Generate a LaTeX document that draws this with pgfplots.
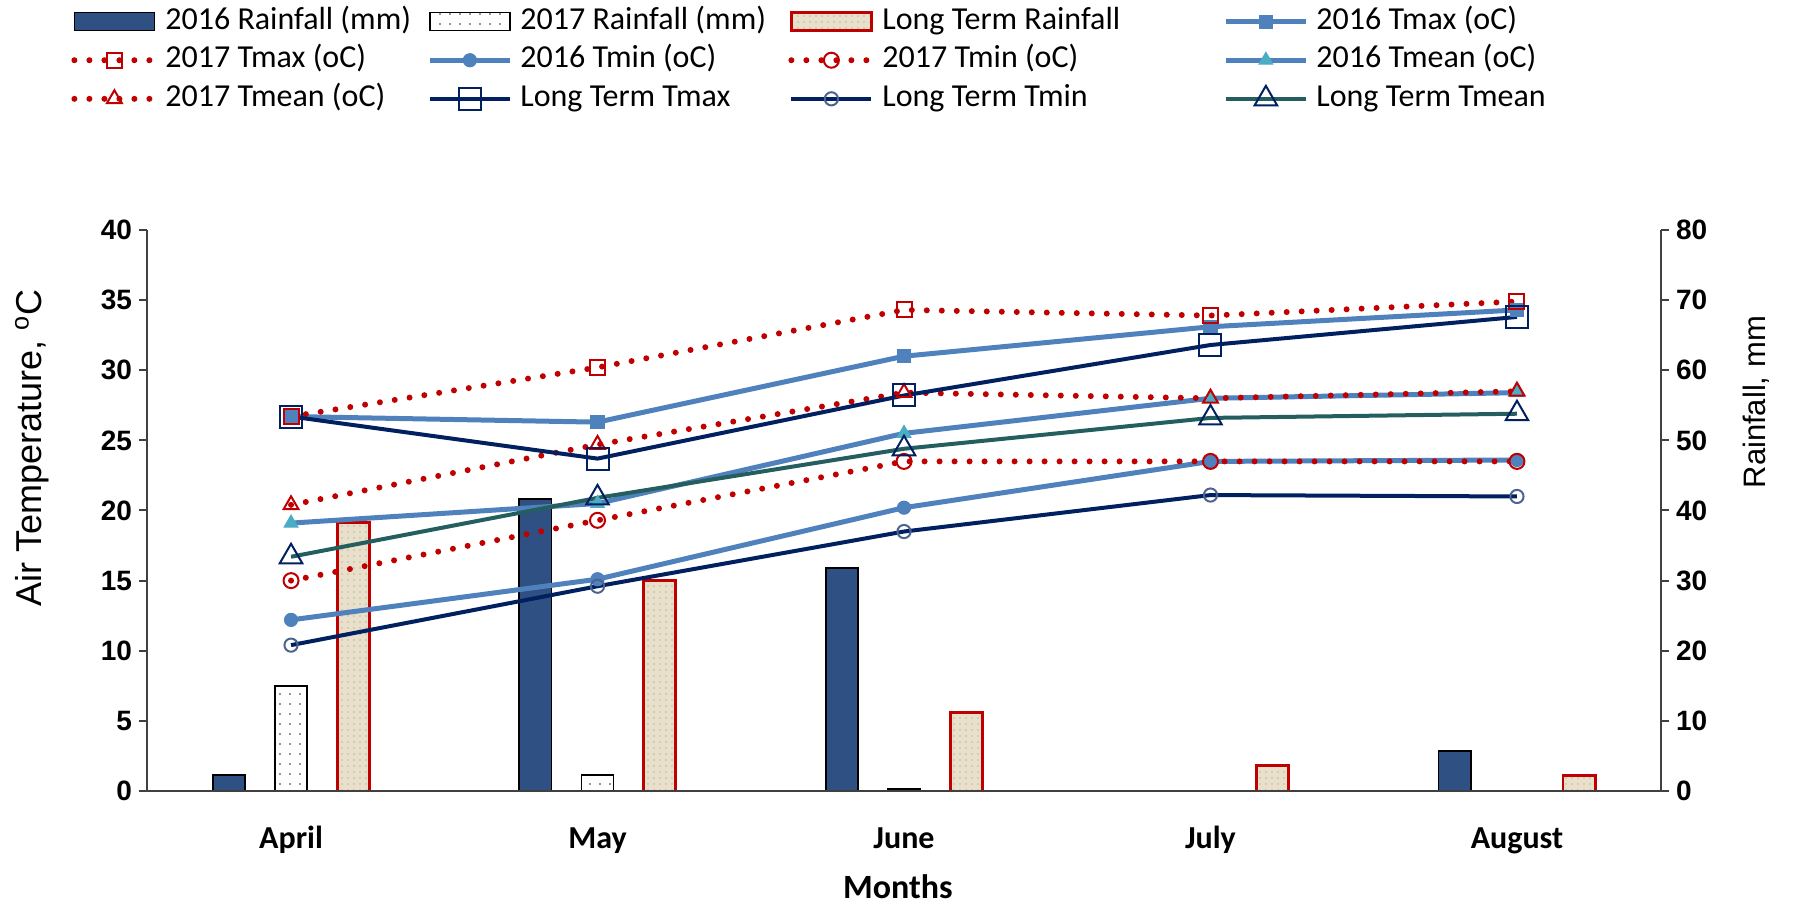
\documentclass[border=0pt]{standalone}
\usepackage{fontspec}
\setmainfont{Carlito}
\newfontfamily\arialfont{Liberation Sans}
\usepackage{pgfplots}
\pgfplotsset{compat=1.18}
\usetikzlibrary{patterns.meta}

\definecolor{rainA}{RGB}{46,80,130}
\definecolor{ltfill}{RGB}{233,224,203}
\definecolor{ltgrain}{RGB}{196,182,156}
\definecolor{ltedge}{RGB}{192,0,0}
\definecolor{blueA}{RGB}{79,129,189}
\definecolor{cyanA}{RGB}{75,172,198}
\definecolor{redB}{RGB}{192,0,0}
\definecolor{navyC}{RGB}{0,32,96}
\definecolor{tealC}{RGB}{36,94,94}
\definecolor{axgray}{RGB}{64,64,64}

\pgfplotsset{
  barleg/.style={legend image code/.code={\draw[##1] (0pt,-4.5pt) rectangle (40pt,4.5pt);}},
  lineleg/.style={legend image code/.code={\draw[mark repeat=2,mark phase=2,##1] plot coordinates {(0pt,0pt) (20pt,0pt) (40pt,0pt)};}},
  dotred/.style={redB, line width=3pt, line cap=round, dash pattern=on 0pt off 7.5pt},
  tmaxA/.style={blueA, line width=2.5pt, mark=square*, mark size=3.3pt, mark options={fill=blueA, draw=blueA, line width=0.5pt}},
  tmaxB/.style={dotred, mark=square, mark size=3.75pt, mark options={solid, draw=redB, fill=none, line width=1pt}},
  tminA/.style={blueA, line width=2.5pt, mark=*, mark size=3.3pt, mark options={fill=blueA, draw=blueA, line width=0.5pt}},
  tminB/.style={dotred, mark=o, mark size=3.75pt, mark options={solid, draw=redB, line width=1pt}},
  tmeanA/.style={blueA, line width=2.5pt, mark=triangle*, mark size=4pt, mark options={fill=cyanA, draw=cyanA, line width=0.5pt}},
  tmeanB/.style={dotred, mark=triangle, mark size=4.3pt, mark options={solid, draw=redB, line width=1pt}},
  tmaxC/.style={navyC, line width=2pt, mark=square, mark size=5.5pt, mark options={draw=navyC, fill=none, line width=1pt}},
  tminC/.style={navyC, line width=2pt, mark=o, mark size=3.3pt, mark options={draw=navyC!70, line width=1pt}},
  tmeanC/.style={tealC, line width=2pt, mark=triangle, mark size=6.5pt, mark options={draw=navyC, line width=1pt}},
  frame/.style={
    at={(73.5pt,56.5pt)}, anchor=south west,
    scale only axis, width=757pt, height=280.5pt,
    xmin=-0.47, xmax=4.47,
    axis line style={draw=axgray, line width=1pt},
    every tick/.style={draw=axgray, line width=1pt},
    tick align=outside, major tick length=4pt,
    /pgf/number format/assume math mode=true,
    yticklabel style={font=\arialfont\bfseries\fontsize{14}{16}\selectfont},
  },
}
\newcommand{\cA}[1]{\makebox[131pt][l]{#1}}
\newcommand{\cB}[1]{\makebox[134pt][l]{#1}}
\newcommand{\cC}[1]{\makebox[170.5pt][l]{#1}}

\begin{document}
\begin{tikzpicture}
\path[use as bounding box] (0,0) rectangle (900pt,452pt);

% rainfall, right axis (drawn first, lines go on top)
\begin{axis}[
  frame,
  ymin=0, ymax=80, ytick={0,10,...,80},
  axis x line=none, axis y line*=right,
  ylabel={Rainfall, mm},
  ylabel style={font=\arialfont\fontsize{15.5}{18}\selectfont, at={(axis description cs:1.063,0.693)}, anchor=center},
  lineleg,
  legend columns=4,
  legend cell align=left,
  legend style={at={(axis description cs:-0.0502,1.398)}, anchor=north west,
    draw=none, fill=none, inner sep=0pt,
    font=\fontsize{16}{18}\selectfont,
    row sep=4.8pt, column sep=0pt,
    /tikz/every odd column/.append style={column sep=4pt},
    nodes={inner sep=0pt, text height=11pt, text depth=3.5pt}},
]
\addplot[ybar, bar width=0.105, bar shift=-0.203, fill=rainA, draw=black, line width=0.8pt, barleg]
  coordinates {(0,2.3) (1,41.6) (2,31.8) (3,0) (4,5.7)};
\addlegendentry{\cA{2016 Rainfall (mm)}}
\addplot[ybar, bar width=0.105, bar shift=0, draw=black, line width=0.8pt,
  pattern={Dots[distance=5pt, radius=0.6pt]}, pattern color=black!55, barleg]
  coordinates {(0,15.0) (1,2.3) (2,0.3) (3,0) (4,0)};
\addlegendentry{\cB{2017 Rainfall (mm)}}
\addplot[ybar, bar width=0.105, bar shift=0.203, fill=ltfill, draw=ltedge, line width=1.4pt,
  postaction={pattern={Dots[distance=3pt, radius=0.45pt]}, pattern color=ltgrain}, barleg]
  coordinates {(0,38.3) (1,30.0) (2,11.2) (3,3.6) (4,2.2)};
\addlegendentry{\cC{Long Term Rainfall}}
\addlegendimage{tmaxA}
\addlegendentry{2016 Tmax (oC)}
\addlegendimage{tmaxB}
\addlegendentry{\cA{2017 Tmax (oC)}}
\addlegendimage{tminA}
\addlegendentry{\cB{2016 Tmin (oC)}}
\addlegendimage{tminB}
\addlegendentry{\cC{2017 Tmin (oC)}}
\addlegendimage{tmeanA}
\addlegendentry{2016 Tmean (oC)}
\addlegendimage{tmeanB}
\addlegendentry{\cA{2017 Tmean (oC)}}
\addlegendimage{tmaxC}
\addlegendentry{\cB{Long Term Tmax}}
\addlegendimage{tminC}
\addlegendentry{\cC{Long Term Tmin}}
\addlegendimage{tmeanC}
\addlegendentry{Long Term Tmean}
\end{axis}

% temperature, left axis
\begin{axis}[
  frame,
  ymin=0, ymax=40, ytick={0,5,...,40},
  axis x line*=bottom, axis y line*=left,
  xtick={0,1,2,3,4}, xticklabels={April,May,June,July,August},
  x tick style={draw=none},
  xticklabel style={font=\bfseries\fontsize{16}{19}\selectfont, anchor=base, yshift=-25pt},
  xlabel={Months},
  xlabel style={font=\bfseries\fontsize{17}{20}\selectfont, at={(axis description cs:0.496,-0.171)}, anchor=center},
  ylabel={Air Temperature, \textsuperscript{o}C},
  ylabel style={font=\arialfont\fontsize{18}{21}\selectfont, at={(axis description cs:-0.076,0.611)}, anchor=center},
  clip=false,
]
\addplot[tmaxA]  coordinates {(0,26.7) (1,26.3) (2,31.0) (3,33.1) (4,34.3)};
\addplot[tmaxB]  coordinates {(0,26.7) (1,30.2) (2,34.3) (3,33.9) (4,34.9)};
\addplot[tminA]  coordinates {(0,12.2) (1,15.1) (2,20.2) (3,23.5) (4,23.6)};
\addplot[tminB]  coordinates {(0,15.0) (1,19.3) (2,23.5) (3,23.5) (4,23.5)};
\addplot[tmeanA] coordinates {(0,19.1) (1,20.5) (2,25.5) (3,28.0) (4,28.4)};
\addplot[tmeanB] coordinates {(0,20.4) (1,24.7) (2,28.4) (3,28.0) (4,28.5)};
\addplot[tmaxC]  coordinates {(0,26.7) (1,23.7) (2,28.2) (3,31.8) (4,33.8)};
\addplot[tminC]  coordinates {(0,10.4) (1,14.6) (2,18.5) (3,21.1) (4,21.0)};
\addplot[tmeanC] coordinates {(0,16.7) (1,20.9) (2,24.4) (3,26.6) (4,26.9)};
\end{axis}
\end{tikzpicture}
\end{document}
